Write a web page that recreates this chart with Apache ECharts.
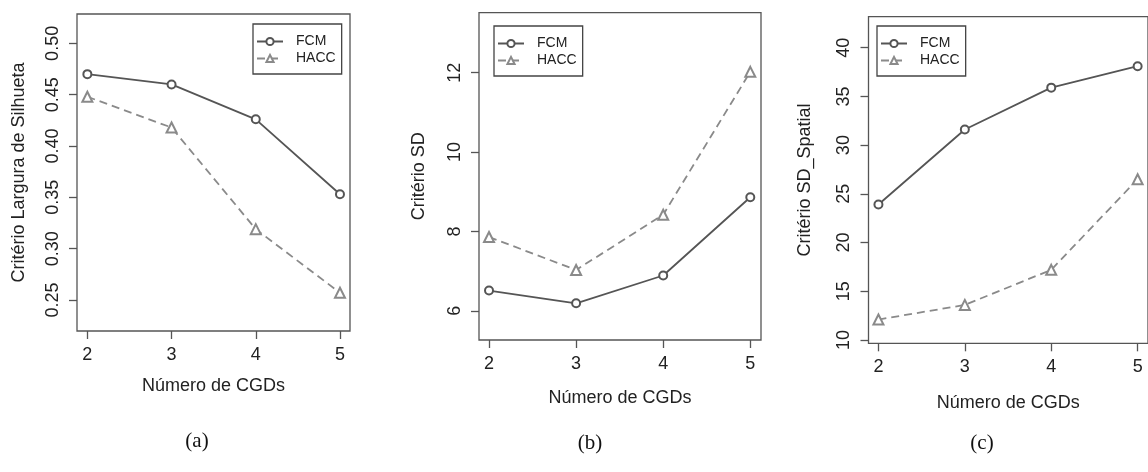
<!DOCTYPE html>
<html>
<head>
<meta charset="utf-8">
<script src="https://cdn.jsdelivr.net/npm/echarts@6/dist/echarts.min.js"></script>
<style>
html,body{margin:0;padding:0;background:#fff;}
#chart{width:1148px;height:472px;}
</style>
</head>
<body>
<div id="chart"></div>
<script>
// ---- data ----
const numCGDs = [2, 3, 4, 5];
const xTicks = [2, 3, 4, 5];

const silFCM  = [0.470, 0.460, 0.426, 0.353];
const silHACC = [0.448, 0.418, 0.319, 0.257];
const silTicks = [0.25, 0.30, 0.35, 0.40, 0.45, 0.50];

const sdFCM  = [6.51, 6.19, 6.89, 8.86];
const sdHACC = [7.86, 7.03, 8.42, 12.02];
const sdTicks = [6, 8, 10, 12];

const spFCM  = [23.9, 31.6, 35.9, 38.1];
const spHACC = [12.1, 13.6, 17.2, 26.5];
const spTicks = [10, 15, 20, 25, 30, 35, 40];

const seriesNames = ['FCM', 'HACC'];
const yTitles = ['Critério Largura de Silhueta', 'Critério SD', 'Critério SD_Spatial'];
const xTitle = 'Número de CGDs';
const captions = ['(a)', '(b)', '(c)'];

// ---- layout / style ----
const FONT = 'Liberation Sans, Arial, sans-serif';
const AX = '#555';
const FCM_C = '#555555';
const HACC_C = '#8a8a8a';

const panels = [
  {grid:{left:77, top:14, width:273, height:317}, x:[1.877,5.119], y:[0.2198,0.5286], yt:silTicks, fmt:v=>v.toFixed(2),
   d:[silFCM, silHACC], yGap:49, xGap:46, legend:{left:253, top:24}, cap:[192, 426]},
  {grid:{left:479, top:12.7, width:282, height:327.3}, x:[1.885,5.123], y:[5.265,13.51], yt:sdTicks, fmt:v=>String(v),
   d:[sdFCM, sdHACC], yGap:51, xGap:49, legend:{left:494, top:26}, cap:[585, 428]},
  {grid:{left:868.5, top:16.7, width:290, height:326.6}, x:[1.885,5.12], y:[9.66,43.18], yt:spTicks, fmt:v=>String(v),
   d:[spFCM, spHACC], yGap:54, xGap:51, legend:{left:877, top:26}, cap:[977, 428]}
];

const grids = [], xAxes = [], yAxes = [], series = [], legends = [], titles = [];
panels.forEach((p, i) => {
  grids.push(Object.assign({show:true, borderColor:AX, borderWidth:1.3, backgroundColor:'transparent'}, p.grid));
  xAxes.push({
    type:'value', gridIndex:i, min:p.x[0], max:p.x[1],
    name:xTitle, nameLocation:'middle', nameGap:p.xGap,
    nameTextStyle:{fontFamily:FONT, fontSize:18, color:'#222'},
    axisLine:{show:false}, splitLine:{show:false},
    axisTick:{show:true, inside:false, length:8, lineStyle:{color:AX, width:1.3}, customValues:xTicks},
    axisLabel:{show:true, margin:15, fontFamily:FONT, fontSize:18, color:'#222', customValues:xTicks, formatter:v=>String(v)}
  });
  yAxes.push({
    type:'value', gridIndex:i, min:p.y[0], max:p.y[1],
    name:yTitles[i], nameLocation:'middle', nameGap:p.yGap,
    nameTextStyle:{fontFamily:FONT, fontSize:18, color:'#222'},
    axisLine:{show:false}, splitLine:{show:false},
    axisTick:{show:true, inside:false, length:8, lineStyle:{color:AX, width:1.3}, customValues:p.yt},
    axisLabel:{show:true, rotate:90, margin:15, fontFamily:FONT, fontSize:18, color:'#222', customValues:p.yt, formatter:p.fmt}
  });
  series.push({
    name:seriesNames[0], type:'line', xAxisIndex:i, yAxisIndex:i,
    data:numCGDs.map((x, k) => [x, p.d[0][k]]),
    symbol:'emptyCircle', symbolSize:8,
    lineStyle:{color:FCM_C, width:1.8, type:'solid'},
    itemStyle:{color:FCM_C, borderColor:FCM_C, borderWidth:1.6},
    animation:false, z:3
  });
  series.push({
    name:seriesNames[1], type:'line', xAxisIndex:i, yAxisIndex:i,
    data:numCGDs.map((x, k) => [x, p.d[1][k]]),
    symbol:'emptyTriangle', symbolSize:10,
    lineStyle:{color:HACC_C, width:1.8, type:[8,5]},
    itemStyle:{color:HACC_C, borderColor:HACC_C, borderWidth:1.6},
    animation:false, z:2
  });
  legends.push({
    data:seriesNames, orient:'vertical', left:p.legend.left, top:p.legend.top,
    padding:[10, 6, 8, 3], itemGap:2, itemWidth:26, itemHeight:9,
    borderColor:'#444', borderWidth:1.3, backgroundColor:'#fff',
    selectedMode:false,
    textStyle:{fontFamily:FONT, fontSize:14, color:'#222', lineHeight:15, padding:[0,0,0,8]}
  });
  titles.push({
    text:captions[i], left:p.cap[0], top:p.cap[1], textAlign:'center',
    textStyle:{fontFamily:'Liberation Serif, Times New Roman, serif', fontSize:21, fontWeight:'normal', color:'#111'}
  });
});

const chart = echarts.init(document.getElementById('chart'), null, {renderer:'canvas'});
chart.setOption({
  animation:false,
  backgroundColor:'#fff',
  title:titles,
  legend:legends,
  grid:grids,
  xAxis:xAxes,
  yAxis:yAxes,
  series:series
});
</script>
</body>
</html>
